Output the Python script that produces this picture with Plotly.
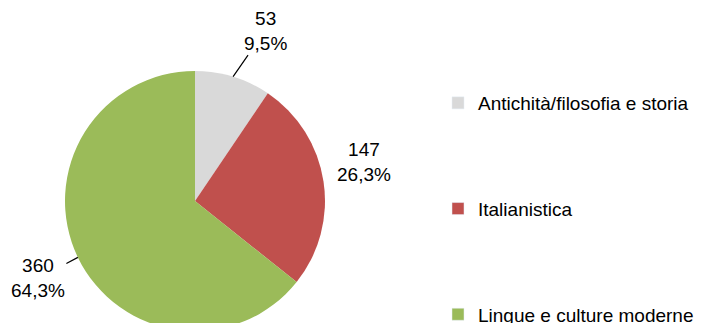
import math
import plotly.graph_objects as go

# slice data, clockwise from 12 o'clock
categories = ["Antichità/filosofia e storia", "Italianistica", "Lingue e culture moderne"]
counts = [53, 147, 360]
colors = ["#D9D9D9", "#C0504D", "#9BBB59"]

FONT = "Liberation Sans, Arial, sans-serif"
W, H = 704, 323

# pie placement in figure pixels (left, top, size); the bottom touches the figure edge
PIE_L, PIE_T, PIE_S = 57, 63, 260
# label offsets from the slice edge (px), and whether a leader line is drawn
label_style = [
    dict(dx=32, dy=-46, leader=True),
    dict(dx=40, dy=-19, leader=False),
    dict(dx=-40, dy=21, leader=True),
]

fig = go.Figure()

fig.add_trace(
    go.Pie(
        labels=categories,
        values=counts,
        marker=dict(colors=colors, line=dict(width=0)),
        sort=False,
        direction="clockwise",
        rotation=0,
        textinfo="none",
        showlegend=False,
        hoverinfo="label+value+percent",
        domain=dict(x=[PIE_L / W, (PIE_L + PIE_S) / W], y=[0, PIE_S / H]),
    )
)

# outside labels: value and percentage at the middle angle of each slice
total = sum(counts)
cx, cy, r = PIE_L + PIE_S / 2, PIE_T + PIE_S / 2, PIE_S / 2
cum = 0
for val, st in zip(counts, label_style):
    mid = (cum + val / 2) / total * 2 * math.pi
    cum += val
    px_ = cx + r * math.sin(mid)
    py_ = cy - r * math.cos(mid)
    pct = math.floor(val / total * 1000 + 0.5) / 10
    pct_txt = f"{pct:.1f}".replace(".", ",")
    fig.add_annotation(
        x=px_ / W,
        y=1 - py_ / H,
        xref="paper",
        yref="paper",
        text=f"{val}<br>{pct_txt}%",
        showarrow=True,
        arrowhead=0,
        arrowwidth=1.2,
        arrowcolor="#000000" if st["leader"] else "rgba(0,0,0,0)",
        standoff=0,
        ax=st["dx"],
        ay=st["dy"],
        align="center",
        font=dict(family=FONT, size=19, color="#000000"),
    )

# legend entries (own groups so they can be spread out vertically)
for name, col in zip(categories, colors):
    fig.add_trace(
        go.Bar(
            x=[None],
            y=[None],
            name=name,
            marker=dict(color=col),
            legendgroup=name,
            showlegend=True,
            hoverinfo="skip",
        )
    )

fig.update_layout(
    width=W,
    height=H,
    margin=dict(l=0, r=0, t=0, b=0, autoexpand=False),
    paper_bgcolor="white",
    plot_bgcolor="white",
    separators=",.",
    font=dict(family=FONT, size=19, color="#000000"),
    xaxis=dict(visible=False),
    yaxis=dict(visible=False),
    legend=dict(
        x=430 / W,
        y=1 - 76 / H,
        xanchor="left",
        yanchor="top",
        font=dict(family=FONT, size=19, color="#000000"),
        tracegroupgap=78,
        itemwidth=30,
        bgcolor="rgba(0,0,0,0)",
    ),
)

fig.write_html("out.html")
